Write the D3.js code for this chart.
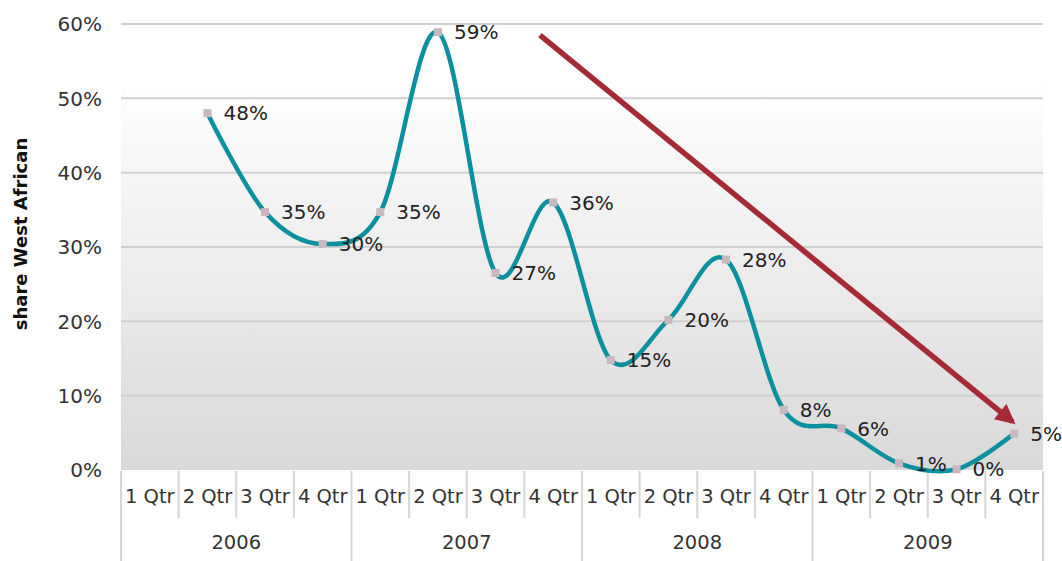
<!DOCTYPE html>
<html>
<head>
<meta charset="utf-8">
<script src="https://cdn.jsdelivr.net/npm/d3@7"></script>
<style>
  html, body { margin: 0; padding: 0; background: #fff; }
  svg { display: block; }
</style>
</head>
<body>
<svg id="chart" width="1062" height="561"></svg>
<script>
const years = ["2006", "2007", "2008", "2009"];
const quarters = ["1 Qtr", "2 Qtr", "3 Qtr", "4 Qtr"];
const values = [null, 48.0, 34.7, 30.4, 34.7, 58.9, 26.5, 36.0, 14.8, 20.2, 28.3, 8.1, 5.6, 0.9, 0.1, 4.9];
const labels = ["", "48%", "35%", "30%", "35%", "59%", "27%", "36%", "15%", "20%", "28%", "8%", "6%", "1%", "0%", "5%"];
const yTicks = [0, 10, 20, 30, 40, 50, 60];
const trendArrow = [{ i: 6.77, v: 58.5 }, { i: 14.97, v: 6.5 }];

(function () {
const svg = d3.select("#chart");
const pLeft = 121, pRight = 1043, pTop = 24, pBottom = 470;
const font = "DejaVu Sans, sans-serif";

const categories = [];
years.forEach(yr => quarters.forEach(q => categories.push(yr + " " + q)));

const x = d3.scaleBand().domain(categories).range([pLeft, pRight]).padding(0);
const xi = d3.scaleLinear().domain([0, categories.length]).range([pLeft, pRight]);
const y = d3.scaleLinear().domain([0, 60]).range([pBottom, pTop]);

const defs = svg.append("defs");
const grad = defs.append("linearGradient").attr("id", "bg").attr("x1", 0).attr("x2", 0).attr("y1", 0).attr("y2", 1);
grad.append("stop").attr("offset", "0%").attr("stop-color", "#ffffff");
grad.append("stop").attr("offset", "12%").attr("stop-color", "#ffffff");
grad.append("stop").attr("offset", "100%").attr("stop-color", "#d9d9d9");

const marker = defs.append("marker").attr("id", "arrowhead")
  .attr("viewBox", "0 0 10 10").attr("refX", 8).attr("refY", 5)
  .attr("markerWidth", 4.2).attr("markerHeight", 3.6).attr("orient", "auto")
  .attr("markerUnits", "strokeWidth");
marker.append("path").attr("d", "M0,0 L10,5 L0,10 Z").attr("fill", "#a52a36");

svg.append("rect").attr("x", pLeft).attr("y", pTop).attr("width", pRight - pLeft).attr("height", pBottom - pTop)
  .attr("fill", "url(#bg)");

svg.append("g").selectAll("line").data(yTicks.filter(t => t > 0)).join("line")
  .attr("x1", pLeft).attr("x2", pRight)
  .attr("y1", d => y(d)).attr("y2", d => y(d))
  .attr("stroke", "#d0d0d0").attr("stroke-width", 2);

svg.append("g").selectAll("text").data(yTicks).join("text")
  .attr("x", 102).attr("y", d => y(d)).attr("dy", "0.36em")
  .attr("text-anchor", "end").attr("font-family", font).attr("font-size", 20).attr("fill", "#333")
  .text(d => d + "%");

svg.append("text").attr("transform", "translate(27,234) rotate(-90)")
  .attr("text-anchor", "middle").attr("font-family", font).attr("font-weight", "bold")
  .attr("font-size", 18).attr("fill", "#111").text("share West African");

const axisG = svg.append("g");
const bw = x.bandwidth();
d3.range(categories.length + 1).forEach(i => {
  const isYear = i % 4 === 0;
  axisG.append("line")
    .attr("x1", xi(i)).attr("x2", xi(i))
    .attr("y1", pBottom + 1).attr("y2", isYear ? 561 : 518)
    .attr("stroke", "#d6d6d6").attr("stroke-width", 2);
});
axisG.selectAll("text.q").data(categories).join("text").attr("class", "q")
  .attr("x", d => x(d) + bw / 2).attr("y", 503)
  .attr("text-anchor", "middle").attr("font-family", font).attr("font-size", 19.5).attr("fill", "#333")
  .text(d => d.split(" ").slice(1).join(" "));
axisG.selectAll("text.yr").data(years).join("text").attr("class", "yr")
  .attr("x", (d, i) => xi(i * 4 + 2)).attr("y", 549)
  .attr("text-anchor", "middle").attr("font-family", font).attr("font-size", 19.5).attr("fill", "#333")
  .text(d => d);

const pts = categories.map((c, i) => ({ c, v: values[i], l: labels[i] })).filter(d => d.v !== null);
const line = d3.line().x(d => x(d.c) + bw / 2).y(d => y(d.v)).curve(d3.curveCardinal.tension(0));
svg.append("path").datum(pts).attr("d", line)
  .attr("fill", "none").attr("stroke", "#0a909e").attr("stroke-width", 4.5)
  .attr("stroke-linejoin", "round").attr("stroke-linecap", "round");

svg.append("g").selectAll("rect").data(pts).join("rect")
  .attr("x", d => x(d.c) + bw / 2 - 4).attr("y", d => y(d.v) - 4)
  .attr("width", 8).attr("height", 8).attr("fill", "#c9b8bf");

svg.append("g").selectAll("text").data(pts).join("text")
  .attr("x", d => x(d.c) + bw / 2 + 16).attr("y", d => y(d.v)).attr("dy", "0.36em")
  .attr("font-family", font).attr("font-size", 20).attr("fill", "#222")
  .text(d => d.l);

svg.append("line")
  .attr("x1", xi(trendArrow[0].i + 0.5)).attr("y1", y(trendArrow[0].v))
  .attr("x2", xi(trendArrow[1].i + 0.5)).attr("y2", y(trendArrow[1].v))
  .attr("stroke", "#a52a36").attr("stroke-width", 5.5)
  .attr("marker-end", "url(#arrowhead)");
})();
</script>
</body>
</html>
